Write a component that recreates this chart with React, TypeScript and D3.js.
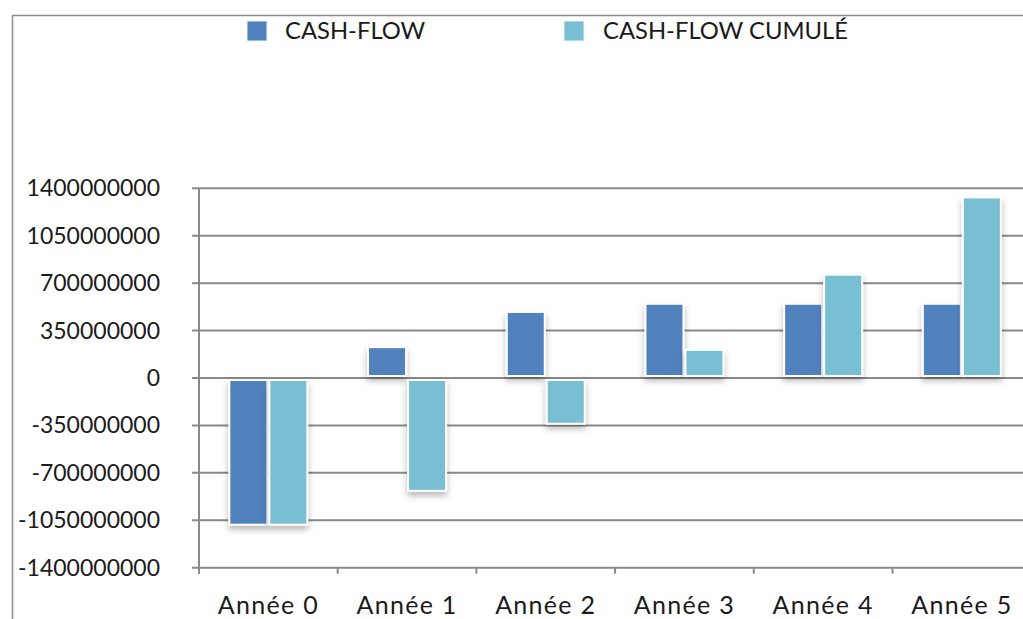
import React, { useEffect, useRef } from "react";
import * as d3 from "d3";

const categories = ["Année 0", "Année 1", "Année 2", "Année 3", "Année 4", "Année 5"];
const cashFlow = [-1090000000, 235000000, 495000000, 555000000, 555000000, 555000000];
const cashFlowCumule = [-1090000000, -840000000, -345000000, 215000000, 770000000, 1340000000];
const seriesNames = ["CASH-FLOW", "CASH-FLOW CUMULÉ"];
const seriesColors = ["#4F81BD", "#78BFD3"];
const yTicks = [-1400000000, -1050000000, -700000000, -350000000, 0, 350000000, 700000000, 1050000000, 1400000000];

const W = 1023;
const H = 619;
const FONT = "Lato, 'Open Sans', sans-serif";

export default function App() {
  const ref = useRef<SVGSVGElement | null>(null);

  useEffect(() => {
    const svg = d3.select(ref.current);
    svg.selectAll("*").remove();

    const left = 199;
    const step = 138.7;
    const x = d3.scaleBand<string>().domain(categories).range([left, left + step * categories.length]).padding(0);
    const x1 = d3.scaleBand<string>().domain(seriesNames).range([0, x.bandwidth()]).paddingInner(0).paddingOuter(0.734);
    const y = d3.scaleLinear().domain([-1400000000, 1400000000]).range([567.7, 188.3]);
    const grey = "#898989";

    const defs = svg.append("defs");
    const f = defs.append("filter").attr("id", "sh").attr("x", "-30%").attr("y", "-30%").attr("width", "160%").attr("height", "160%");
    f.append("feDropShadow").attr("dx", 0).attr("dy", 4).attr("stdDeviation", 3).attr("flood-color", "#000").attr("flood-opacity", 0.28);

    // border
    svg.append("path").attr("d", `M12.5,${H} L12.5,15.5 L${W},15.5`).attr("fill", "none").attr("stroke", "#8c8c8c").attr("stroke-width", 1.5);

    // legend
    const legX = [247, 564];
    const legTX = [285, 603];
    seriesNames.forEach((s, i) => {
      svg.append("rect").attr("x", legX[i]).attr("y", 21).attr("width", 20).attr("height", 20)
        .attr("fill", seriesColors[i]).attr("stroke", "#eef2f6").attr("stroke-width", 1);
      svg.append("text").attr("x", legTX[i]).attr("y", 39).attr("font-family", FONT).attr("font-size", 23.8)
        .attr("fill", "#1a1a1a").text(s);
    });

    // gridlines
    const right = W;
    yTicks.forEach((t) => {
      svg.append("line").attr("x1", 192).attr("x2", right).attr("y1", y(t)).attr("y2", y(t))
        .attr("stroke", grey).attr("stroke-width", 2);
      svg.append("text").attr("x", 160).attr("y", y(t) + 8).attr("text-anchor", "end")
        .attr("font-family", FONT).attr("font-size", 23).attr("fill", "#1a1a1a")
        .text(String(t));
    });

    // y axis
    svg.append("line").attr("x1", left).attr("x2", left).attr("y1", y(1400000000)).attr("y2", y(-1400000000) + 6)
      .attr("stroke", grey).attr("stroke-width", 2);

    // x ticks
    const boundaries = categories.map((c) => x(c) as number).concat([(x(categories[categories.length - 1]) as number) + x.bandwidth()]);
    boundaries.forEach((b) => {
      svg.append("line").attr("x1", b).attr("x2", b).attr("y1", y(-1400000000)).attr("y2", y(-1400000000) + 6)
        .attr("stroke", grey).attr("stroke-width", 2);
    });

    // category labels
    categories.forEach((c) => {
      svg.append("text").attr("x", (x(c) as number) + x.bandwidth() / 2).attr("y", 614)
        .attr("text-anchor", "middle").attr("font-family", FONT).attr("font-size", 25)
        .attr("letter-spacing", 1.3).attr("fill", "#1a1a1a").text(c);
    });

    // bars
    const data = [cashFlow, cashFlowCumule];
    const y0 = y(0);
    const g = svg.append("g");
    categories.forEach((c, ci) => {
      seriesNames.forEach((s, si) => {
        const v = data[si][ci];
        const bx = (x(c) as number) + (x1(s) as number);
        const bw = x1.bandwidth();
        const top = v >= 0 ? y(v) : y0 + 1;
        const bot = v >= 0 ? y0 - 1 : y(v);
        g.append("rect").attr("x", bx).attr("y", top).attr("width", bw).attr("height", bot - top)
          .attr("fill", "#ffffff").attr("filter", "url(#sh)");
        g.append("rect").attr("x", bx + 2).attr("y", top + 2).attr("width", bw - 4).attr("height", Math.max(0, bot - top - 4))
          .attr("fill", seriesColors[si]);
      });
    });
  }, []);

  return (
    <svg ref={ref} width={W} height={H} style={{ position: "absolute", left: 0, top: 0, background: "#fff" }} />
  );
}
